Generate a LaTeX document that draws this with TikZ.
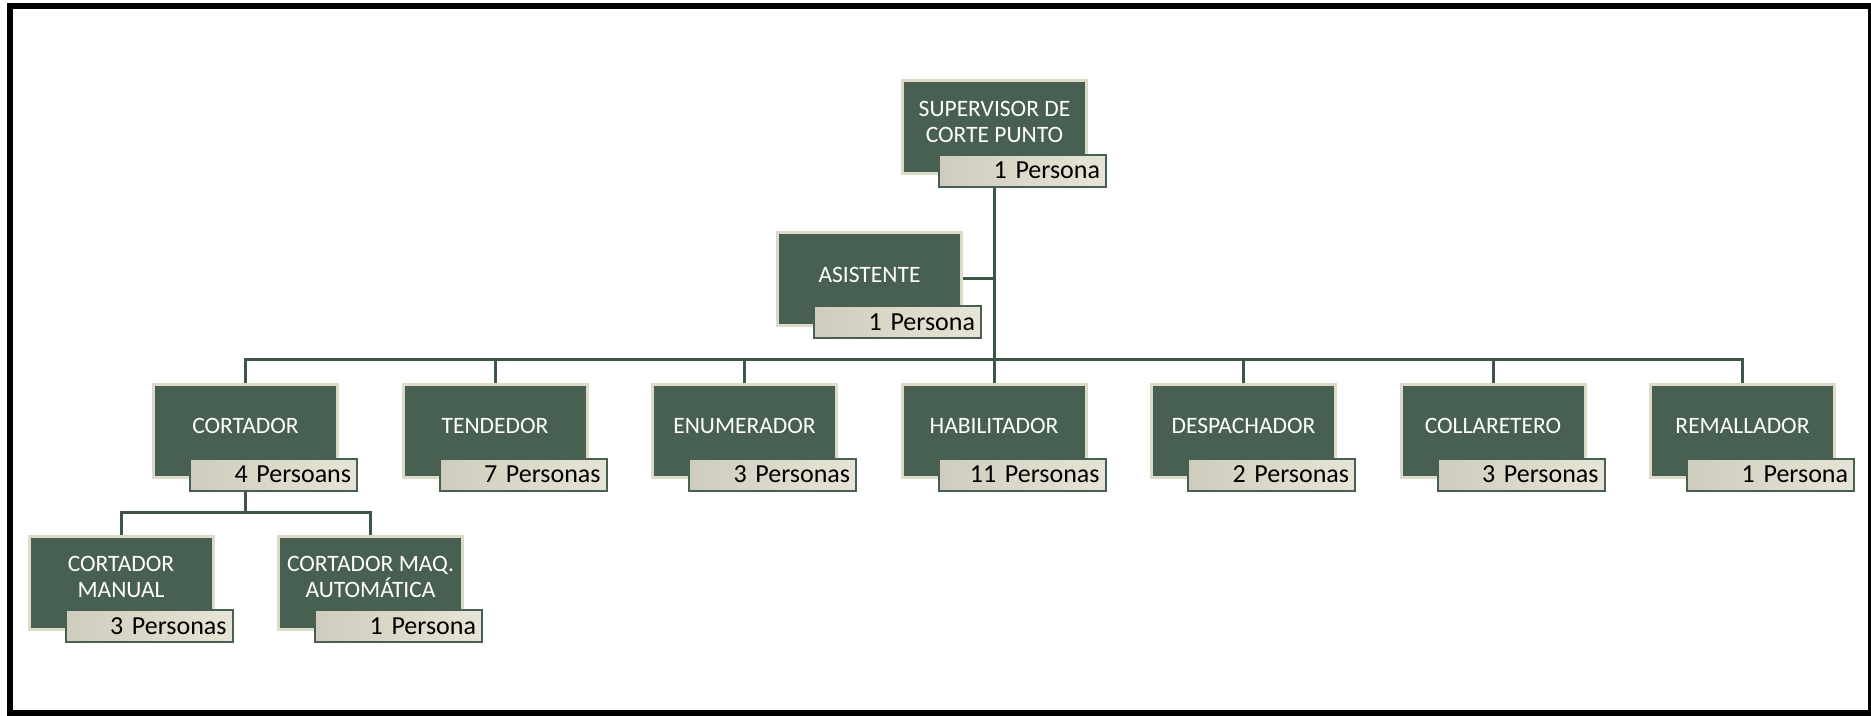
\documentclass[tikz,border=0pt]{standalone}
\usepackage{fontspec}
\setmainfont{Carlito}
\usetikzlibrary{calc}
\usepackage{xcolor}

\definecolor{verde}{HTML}{476052}
\definecolor{crema}{HTML}{DDDAC8}
\definecolor{linea}{HTML}{3E5646}
\definecolor{cremaosc}{HTML}{CECDBD}
\definecolor{cremacla}{HTML}{E6E4D6}

\tikzset{
  puesto/.style={draw=crema, line width=3pt, fill=verde, minimum width=184pt, minimum height=93pt, inner sep=0pt},
  titulo/.style={text=white, align=center, font=\fontsize{23.5}{26.7}\selectfont, inner sep=0pt},
  cantidad/.style={draw=verde, line width=2pt, left color=cremaosc, right color=cremacla, minimum height=32pt, text width=155pt, inner xsep=6pt, inner ysep=0pt, align=right, font=\fontsize{26}{28}\selectfont},
  enlace/.style={draw=linea, line width=3pt}
}

\begin{document}
\begin{tikzpicture}[x=1pt,y=-1pt]
      \useasboundingbox (0,0) rectangle (1871,715);

      % Frame
      \draw[line width=6pt] (10,6) rectangle (1871,713);

      % Supervisor
      \node[puesto] (sup) at (994.5,127) {};
      \node[titulo] (sup-t) at ($(sup.center)+(0,-5)$) {SUPERVISOR DE\\CORTE PUNTO};
      \node[cantidad] (sup-c) at ($(sup.center)+(28,43.5)$) {1 Persona};

      % Asistente
      \node[puesto] (asis) at (869.5,278.5) {};
      \node[titulo] (asis-t) at ($(asis.center)+(0,-4)$) {ASISTENTE};
      \node[cantidad] (asis-c) at ($(asis.center)+(28,43.5)$) {1 Persona};

      % Puestos
      \foreach \i/\t/\c in {1/CORTADOR/4 Persoans, 2/TENDEDOR/7 Personas,
        3/ENUMERADOR/3 Personas, 4/HABILITADOR/11 Personas,
        5/DESPACHADOR/2 Personas, 6/COLLARETERO/3 Personas, 7/REMALLADOR/1 Persona}
      {
        \node[puesto] (p\i) at ($(245.5,431)+({249.5*(\i-1)},0)$) {};
        \node[titulo] (p\i-t) at ($(p\i.center)+(0,-5.5)$) {\t};
        \node[cantidad] (p\i-c) at ($(p\i.center)+(28,43.5)$) {\c};
      }

      % Cortadores
      \foreach \i/\t/\c in {1/CORTADOR\\MANUAL/3 Personas, 2/CORTADOR MAQ.\\AUTOMÁTICA/1 Persona}
      {
        \node[puesto] (s\i) at ($(121,582.5)+({249.5*(\i-1)},0)$) {};
        \node[titulo] (s\i-t) at ($(s\i.center)+(0,-5.5)$) {\t};
        \node[cantidad] (s\i-c) at ($(s\i.center)+(28,43.5)$) {\c};
      }

      % Lines
      \coordinate (bus) at (994.5,359);
      \draw[enlace] (sup.center |- sup-c.south) -- (bus);
      \draw[enlace] (asis.east) -- (asis.east -| sup.center);
      \draw[enlace] (p1.north) -- (p1.north |- bus) -- (p7.north |- bus) -- (p7.north);
      \foreach \i in {2,...,6}
        \draw[enlace] (p\i.north) -- (p\i.north |- bus);

      \coordinate (bus2) at (245.5,512);
      \draw[enlace] (p1.center |- p1-c.south) -- (bus2);
      \draw[enlace] (s1.north) -- (s1.north |- bus2) -- (s2.north |- bus2) -- (s2.north);

\end{tikzpicture}
\end{document}
